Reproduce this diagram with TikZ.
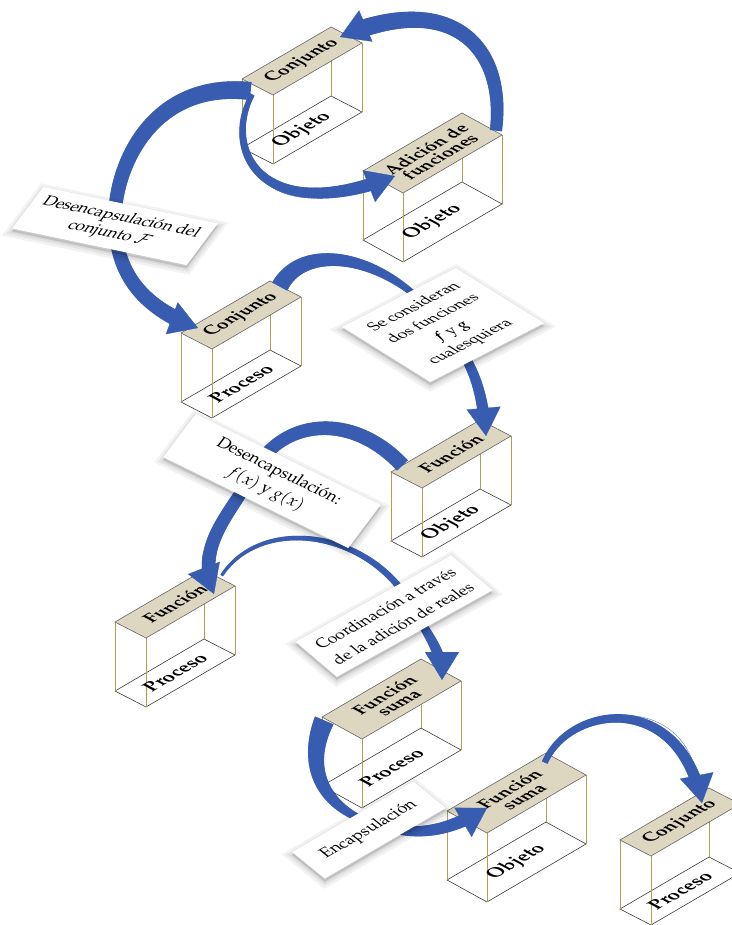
\documentclass[tikz,border=0pt]{standalone}
\usepackage[T1]{fontenc}
\usepackage{mathpazo}
\usetikzlibrary{calc, arrows.meta, shadows, decorations.markings}

\definecolor{azulflecha}{RGB}{56, 92, 176}
\definecolor{tapa}{RGB}{221, 214, 192}
\definecolor{oliva}{RGB}{170, 164, 82}
\definecolor{fondo}{RGB}{60, 60, 60}

\newcommand{\tramo}[2]{%
    \pgfmathsetmacro{\ancho}{#1 + (#2 - #1)*\pgfkeysvalueof{/pgf/decoration/mark info/distance from start}/\pgfdecoratedpathlength}%
    \fill[azulflecha] (-0.7pt, -\ancho pt) rectangle (0.7pt, \ancho pt);}

\tikzset{
    plano/.style={cm={0.862, 0.506, -0.88, 0.475, (0, 0)}},
    titulo/.style={plano, inner sep=0pt, align=center, font=\fontsize{18}{16}\selectfont\bfseries},
    piso/.style={plano, inner sep=0pt, font=\fontsize{19}{19}\selectfont\bfseries},
    arista/.style={draw=oliva, line width=0.8pt},
    borde/.style={draw=fondo, line width=0.6pt},
    placa/.style={fill=tapa, draw=black!60, line width=0.6pt},
    cola/.style 2 args={postaction={decorate, decoration={markings,
        mark=between positions 0 and 1 step 0.8pt with {\tramo{#1}{#2}}}}},
    flecha/.style 2 args={draw=azulflecha, line width=0.3pt, -{Triangle[width=34pt, length=28pt]},
        postaction={decorate, decoration={markings,
        mark=between positions 0 and -22pt step 0.8pt with {\tramo{#1}{#2}}}}},
    sombra/.style={general shadow={fill=black, fill opacity=0.04, draw=black, draw opacity=0.05,
        line width=#1, shadow xshift=0pt, shadow yshift=-3pt}},
    nota/.style={fill=white, inner sep=2pt, align=center, sombra=12pt, sombra=7pt, sombra=3pt}
}

\newcommand{\caja}[6]{
    \coordinate (#1L) at (#2);
    \coordinate (#1B) at ($(#1L) + (#3)$);
    \coordinate (#1F) at ($(#1L) + (#4)$);
    \coordinate (#1R) at ($(#1B) + (#4)$);
    \draw[borde] ($(#1L) + (0, 69)$) -- ($(#1F) + (0, 69)$) -- ($(#1R) + (0, 69)$) -- ($(#1B) + (0, 69)$) -- cycle;
    \foreach \esq in {L, F, R, B}
        \draw[arista] (#1\esq) -- ++(0, 69);
    \draw[placa] (#1L) -- (#1B) -- (#1R) -- (#1F) -- cycle;
    \node[titulo] (#1t) at ($(#1L)!0.5!(#1R)$) {#5};
    \node[piso] (#1p) at ($(#1L)!0.5!(#1R) + (0, 69)$) {#6};
}

\begin{document}
    \begin{tikzpicture}[x=1pt, y=-1pt]
        \useasboundingbox (0, 0) rectangle (731, 925);
        \fill[white] (0, 0) rectangle (731, 925);
        \caja{b1}{242, 79}{89, -52}{31, 16}{Conjunto}{Objeto}
        \caja{b2}{363, 171}{99, -58}{40, 22}{Adici\'on de\\funciones}{Objeto}
        \caja{b3}{181, 333}{89, -52}{31, 16}{Conjunto}{Proceso}
        \caja{b4}{391, 472}{89, -52}{31, 16}{Funci\'on}{Objeto}
        \caja{b5}{115, 622}{89, -52}{31, 16}{Funci\'on}{Proceso}
        \caja{b6}{322, 717}{99, -58}{40, 22}{Funci\'on\\suma}{Proceso}
        \caja{b7}{447, 811}{99, -58}{40, 22}{Funci\'on\\suma}{Objeto}
        \caja{b8}{620, 840}{89, -52}{31, 16}{Conjunto}{Proceso}
        \coordinate (c1) at (115, 226);
        \coordinate (c2) at (443, 325);
        \coordinate (c3) at (272, 481);
        \coordinate (c4) at (394, 616);
        \coordinate (c5) at (369, 830);
        \draw[flecha={6}{9}] ($(b2R) + (-6, -5)$) .. controls (506, 45) and (450, -10) .. ($(b1B) + (9, 10)$);
        \draw[flecha={2.5}{7}] ($(b1L) + (10, 16)$) .. controls (222, 150) and (262, 228) .. ($(b2L) + (32, 5)$);
        \path[cola={9}{6.5}] ($(b1L) + (8, 12)$) .. controls (150, 80) and (112, 170) .. (c1);
        \draw[flecha={6.5}{8}] (c1) .. controls (118, 285) and (155, 312) .. ($(b3L) + (17, -5)$);
        \path[cola={8.5}{1.5}] ($(b3B) + (10, 5)$) .. controls (305, 240) and (390, 255) .. (c2);
        \draw[flecha={4}{6}] (c2) .. controls (475, 365) and (482, 390) .. ($(b4B) + (6, 16)$);
        \path[cola={7.5}{6}] ($(b4L) + (11, -7)$) .. controls (350, 410) and (280, 420) .. ($(c3) + (-19, -8)$);
        \draw[flecha={6}{7}] ($(c3) + (-19, -8)$) .. controls (230, 515) and (195, 545) .. ($(b5B) + (10, 24)$);
        \path[cola={1.5}{3.5}] ($(b5B) + (18, 5)$) .. controls (262, 515) and (370, 530) .. ($(c4) + (18, -10)$);
        \draw[flecha={3.5}{6}] ($(c4) + (18, -10)$) .. controls (430, 640) and (442, 650) .. ($(b6B) + (21, 21)$);
        \path[cola={10}{2.5}] ($(b6L) + (2, 4)$) .. controls (303, 770) and (325, 810) .. ($(c5) + (8, -5)$);
        \draw[flecha={4}{7}] ($(c5) + (8, -5)$) .. controls (420, 838) and (450, 830) .. ($(b7L) + (40, -3)$);
        \draw[flecha={3}{6}] ($(b7B) + (-1, 9)$) .. controls (570, 705) and (680, 690) .. ($(b8B) + (-7, 15)$);
        \node[nota, cm={0.979, -0.205, 0.6, 0.8, (0, 0)}, minimum width=178, minimum height=52,
            font=\fontsize{16.5}{20}\selectfont] (n1) at (c1) {Desencapsulaci\'on del\\conjunto $\mathcal{F}$};
        \node[nota, cm={0.888, 0.46, -0.848, 0.53, (0, 0)}, minimum width=128, minimum height=104,
            font=\fontsize{16}{22}\selectfont] (n2) at (c2) {Se consideran\\dos funciones\\\textbf{\textit{f}} y \textbf{\textit{g}}\\cualesquiera};
        \node[nota, cm={0.897, -0.441, 0.6, 0.8, (0, 0)}, minimum width=206, minimum height=54,
            font=\fontsize{16.5}{22}\selectfont] (n3) at (c3) {Desencapsulaci\'on:\\$f(x)$ y $g(x)$};
        \node[nota, cm={0.874, 0.486, -0.762, 0.648, (0, 0)}, minimum width=178, minimum height=54,
            font=\fontsize{16}{23}\selectfont] (n4) at (c4) {Coordinaci\'on a trav\'es\\de la adici\'on de reales};
        \node[nota, cm={0.864, 0.504, -0.776, 0.631, (0, 0)}, minimum width=140, minimum height=42,
            font=\fontsize{16.5}{20}\selectfont] (n5) at (c5) {Encapsulaci\'on};
    \end{tikzpicture}
\end{document}
